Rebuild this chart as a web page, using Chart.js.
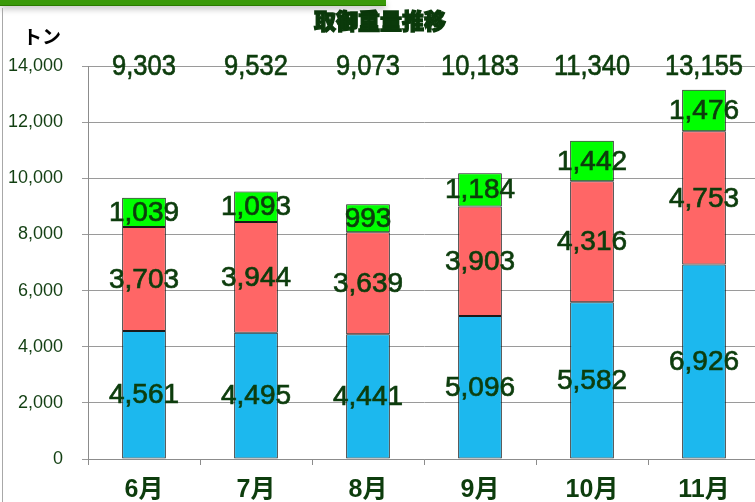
<!DOCTYPE html>
<html>
<head>
<meta charset="utf-8">
<script src="https://cdn.jsdelivr.net/npm/chart.js@4/dist/chart.umd.min.js"></script>
<style>
  html,body{margin:0;padding:0;overflow:hidden;background:#fff;width:755px;height:502px;}
  #wrap{position:absolute;left:0;top:0;width:760px;height:502px;}
  #topbar{position:absolute;left:0;top:0;width:386px;height:5px;background:#3a9a0a;border-bottom:1px solid #2a7a00;box-shadow:0 3px 6px rgba(0,0,0,0.25);z-index:2;}
  #leftline{position:absolute;left:2px;top:8px;width:1px;height:494px;background:#a8a8a8;z-index:2;}
</style>
</head>
<body>
<div id="wrap"><canvas id="c" width="760" height="502"></canvas></div>
<div id="topbar"></div>
<div id="leftline"></div>
<script>
const categories = ['6月','7月','8月','9月','10月','11月'];
const seriesBlue  = [4561, 4495, 4441, 5096, 5582, 6926];
const seriesRed   = [3703, 3944, 3639, 3903, 4316, 4753];
const seriesGreen = [1039, 1093, 993, 1184, 1442, 1476];
const totals      = [9303, 9532, 9073, 10183, 11340, 13155];
const yTicks      = [0, 2000, 4000, 6000, 8000, 10000, 12000, 14000];
const titleText = '取御重量推移';
const unitText = 'トン';

const fmt = v => v.toLocaleString('en-US');
const labelColor = '#0d3d0d';

function boldText(ctx, txt, x, y, sx) {
  ctx.save();
  ctx.translate(x, y);
  ctx.scale(sx, 1);
  ctx.fillText(txt, 0, 0);
  ctx.strokeText(txt, 0, 0);
  ctx.restore();
}

const labelPlugin = {
  id: 'labelPlugin',
  afterDatasetsDraw(chart) {
    const ctx = chart.ctx;
    ctx.save();
    ctx.textAlign = 'center';
    ctx.textBaseline = 'middle';
    ctx.fillStyle = labelColor;
    ctx.strokeStyle = labelColor;
    ctx.lineWidth = 0.7;
    ctx.font = '28px "Liberation Sans", Arial, sans-serif';
    chart.data.datasets.forEach((ds, i) => {
      const meta = chart.getDatasetMeta(i);
      meta.data.forEach((bar, j) => {
        const y = (bar.y + bar.base) / 2 + 1;
        boldText(ctx, fmt(ds.data[j]), bar.x, y, 1);
      });
    });
    const meta0 = chart.getDatasetMeta(0);
    const yTop = chart.scales.y.getPixelForValue(14000) + 1;
    ctx.font = '29px "Liberation Sans", Arial, sans-serif';
    totals.forEach((t, j) => {
      boldText(ctx, fmt(t), meta0.data[j].x, yTop, 0.88);
    });
    // title
    ctx.font = '900 22px "Noto Sans CJK JP", sans-serif';
    ctx.fillStyle = '#0b3a0b';
    ctx.strokeStyle = '#0b3a0b';
    ctx.lineWidth = 1.4;
    ctx.fillText(titleText, 380, 21);
    ctx.strokeText(titleText, 380, 21);
    // unit
    ctx.font = 'bold 19px "Noto Sans CJK JP", sans-serif';
    ctx.fillStyle = '#000';
    ctx.fillText(unitText, 42, 37);
    ctx.restore();
  }
};

new Chart(document.getElementById('c'), {
  type: 'bar',
  data: {
    labels: categories,
    datasets: [
      { data: seriesBlue,  backgroundColor: '#1cb8ee', borderColor: '#1a1a1a', borderWidth: 1, borderSkipped: false },
      { data: seriesRed,   backgroundColor: '#ff6666', borderColor: '#1a1a1a', borderWidth: 1, borderSkipped: false },
      { data: seriesGreen, backgroundColor: '#00ff00', borderColor: '#1a1a1a', borderWidth: 1, borderSkipped: false }
    ]
  },
  options: {
    responsive: false,
    animation: false,
    events: [],
    layout: { padding: { top: 66, left: 0, right: 0, bottom: 0 } },
    plugins: { legend: { display: false }, tooltip: { enabled: false }, title: { display: false } },
    datasets: { bar: { categoryPercentage: 1, barPercentage: 0.39 } },
    scales: {
      x: {
        stacked: true,
        offset: true,
        grid: { display: true, drawOnChartArea: false, drawTicks: true, tickLength: 6, color: '#8c8c8c', offset: true },
        border: { color: '#8c8c8c', width: 1 },
        ticks: { color: labelColor, font: { family: '"Liberation Sans", "Noto Sans CJK JP", sans-serif', size: 25, weight: 'bold' }, padding: 10 },
        afterFit(scale) { scale.height = 43; }
      },
      y: {
        stacked: true,
        min: 0, max: 14000,
        afterBuildTicks(scale) { scale.ticks = yTicks.map(v => ({ value: v })); },
        grid: { color: '#9a9a9a', tickLength: 6, drawTicks: true },
        border: { color: '#8c8c8c', width: 1 },
        ticks: { color: '#123f12', padding: 19, font: { family: '"Liberation Sans", Arial, sans-serif', size: 18 }, callback: v => fmt(v) },
        afterFit(scale) { scale.width = 88; }
      }
    }
  },
  plugins: [labelPlugin]
});
</script>
</body>
</html>
